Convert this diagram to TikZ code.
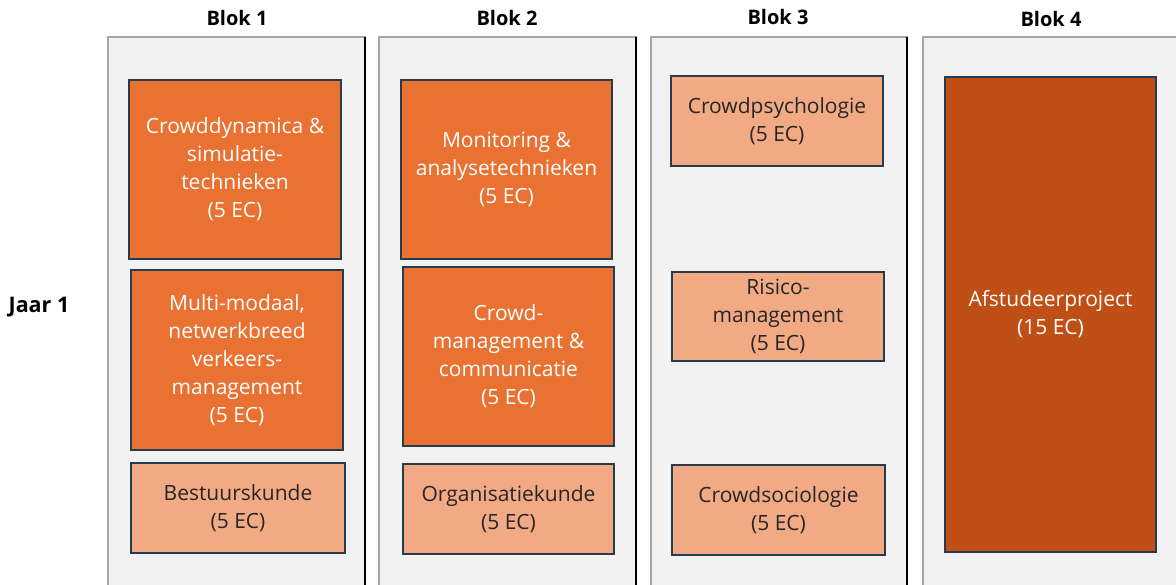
\documentclass[tikz,border=0pt]{standalone}
\usepackage{fontspec}
\setmainfont{Open Sans}
\definecolor{panelgray}{HTML}{F2F2F2}
\definecolor{paneledge}{HTML}{A6A6A6}
\definecolor{orangemid}{HTML}{E97132}
\definecolor{orangelight}{HTML}{F2AA84}
\definecolor{orangedark}{HTML}{C04F15}
\definecolor{boxedge}{HTML}{263B4C}
\definecolor{darktext}{HTML}{262626}

\tikzset{
  vak/.style={draw=boxedge, line width=1.4pt, align=center, inner sep=0pt,
    font=\fontsize{21}{28}\selectfont},
  vakmid/.style={vak, fill=orangemid, text=white},
  vaklicht/.style={vak, fill=orangelight, text=darktext},
  vakdonker/.style={vak, fill=orangedark, text=white},
  kop/.style={font=\fontsize{20}{22}\selectfont\bfseries, text=black},
  paneel/.style={fill=panelgray, draw=paneledge, line width=1.2pt},
}

\begin{document}
\begin{tikzpicture}[x=1pt, y=-1pt]
        \clip (0,0) rectangle (1176,585);
        \fill[white] (0,0) rectangle (1176,585);

        % panels
        \foreach \l/\r in {108/365, 379/636, 651/907, 923/1190}{
            \draw[paneel] (\l,37) rectangle (\r,600);
            \draw[line width=2.6pt, black] (\r,37) -- (\r,600);
        }

        % headers
        \node[kop] (blok1) at (237,18) {Blok 1};
        \node[kop] (blok2) at (507,18) {Blok 2};
        \node[kop] (blok3) at (778,17) {Blok 3};
        \node[kop] (blok4) at (1051,19) {Blok 4};
        \node[kop, font=\fontsize{21.5}{22}\selectfont\bfseries] (jaar1) at (39,307) {Jaar 1};

        % Blok 1
        \node[vakmid, minimum width=212, minimum height=179] (crowddyn) at (235,169.5)
            {Crowddynamica \&\\simulatie-\\technieken\\(5 EC)};
        \node[vakmid, minimum width=212, minimum height=180] (multimod) at (237,360)
            {Multi-modaal,\\netwerkbreed\\verkeers-\\management\\(5 EC)};
        \node[vaklicht, minimum width=214, minimum height=90] (bestuur) at (238,508)
            {Bestuurskunde\\(5 EC)};

        % Blok 2
        \node[vakmid, minimum width=211, minimum height=179] (monitor) at (506.5,169.5)
            {Monitoring \&\\analysetechnieken\\(5 EC)};
        \node[vakmid, minimum width=211, minimum height=179] (crowdman) at (508.5,356.5)
            {Crowd-\\management \&\\communicatie\\(5 EC)};
        \node[vaklicht, minimum width=211, minimum height=90] (organis) at (508.5,509)
            {Organisatiekunde\\(5 EC)};

        % Blok 3
        \node[vaklicht, minimum width=212, minimum height=90] (psych) at (777,121)
            {Crowdpsychologie\\(5 EC)};
        \node[vaklicht, minimum width=212, minimum height=89] (risico) at (778,316.5)
            {Risico-\\management\\(5 EC)};
        \node[vaklicht, minimum width=213, minimum height=90] (socio) at (778.5,510)
            {Crowdsociologie\\(5 EC)};

        % Blok 4
        \node[vakdonker, minimum width=211, minimum height=475] (afstudeer) at (1050.5,314.5)
            {Afstudeerproject\\(15 EC)};
\end{tikzpicture}
\end{document}
